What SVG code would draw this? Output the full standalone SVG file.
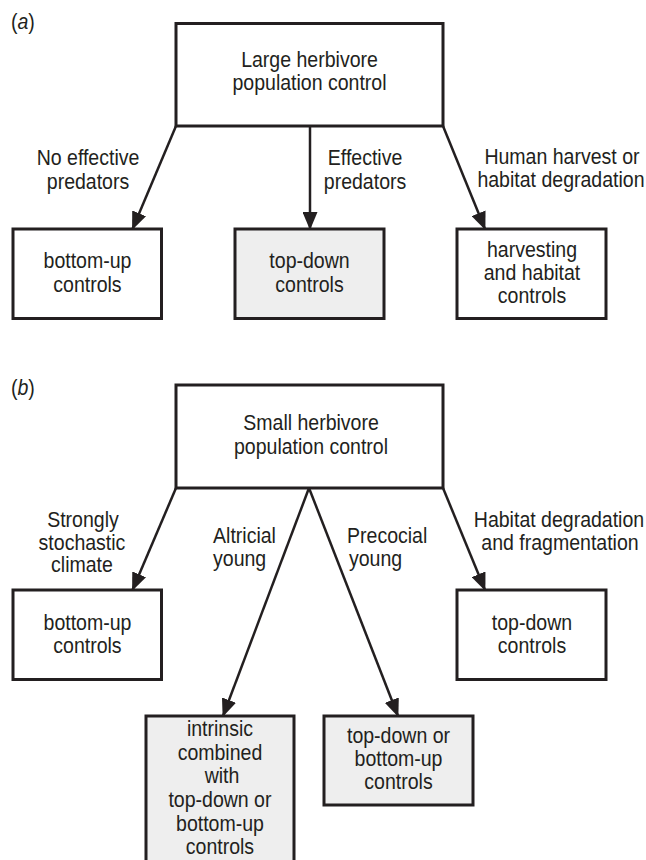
<svg xmlns="http://www.w3.org/2000/svg" width="646" height="860" viewBox="0 0 646 860">
<defs>
<style>
.box{fill:#ffffff;stroke:#231f20;stroke-width:3}
.shade{fill:#eeeeee}
.t{font-family:"Liberation Sans",Arial,sans-serif;font-size:21.7px;fill:#231f20;text-anchor:middle}
.l{text-anchor:start}
.edge{stroke:#231f20;stroke-width:2.5;fill:none;marker-end:url(#ah)}
</style>
<marker id="ah" viewBox="0 0 18 15" markerWidth="18" markerHeight="15" refX="17" refY="7.5" orient="auto" markerUnits="userSpaceOnUse">
<path d="M0,0 L18,7.5 L0,15 Z" fill="#231f20"/>
</marker>
</defs>
<rect width="646" height="860" fill="#ffffff"/>

<g id="connectors">
<line class="edge" x1="176" y1="126" x2="132.5" y2="229"/>
<line class="edge" x1="310" y1="126" x2="310" y2="229"/>
<line class="edge" x1="443" y1="126" x2="485" y2="229"/>
<line class="edge" x1="176" y1="488" x2="132.5" y2="590"/>
<line class="edge" x1="443" y1="488" x2="485" y2="590"/>
<line class="edge" x1="309" y1="488" x2="223" y2="716"/>
<line class="edge" x1="309" y1="488" x2="398" y2="716"/>
</g>

<g id="large-herbivore">
<rect class="box" x="176" y="23.5" width="267" height="102.5"/>
</g>
<g id="a-bottom-up">
<rect class="box" x="13" y="229" width="148.5" height="89.5"/>
</g>
<g id="a-top-down">
<rect class="box shade" x="235" y="229" width="149" height="89.5"/>
</g>
<g id="a-harvesting">
<rect class="box" x="457" y="229" width="149" height="89.5"/>
</g>
<g id="small-herbivore">
<rect class="box" x="176" y="385" width="267" height="103"/>
</g>
<g id="b-bottom-up">
<rect class="box" x="13" y="590" width="148.5" height="89.5"/>
</g>
<g id="b-top-down">
<rect class="box" x="457" y="590" width="149" height="89.5"/>
</g>
<g id="b-intrinsic">
<rect class="box shade" x="146" y="716" width="148" height="160"/>
</g>
<g id="b-topdown-or-bottomup">
<rect class="box shade" x="324" y="716" width="149" height="89"/>
</g>

<g id="texts" transform="scale(0.9,1)">
<text class="t l" x="12.2" y="29">(<tspan font-style="italic">a</tspan>)</text>
<text class="t l" x="12.2" y="395">(<tspan font-style="italic">b</tspan>)</text>

<text class="t" x="97.8" y="165.5">No effective</text>
<text class="t" x="97.8" y="189">predators</text>
<text class="t" x="405.6" y="165.5">Effective</text>
<text class="t" x="405.6" y="189">predators</text>
<text class="t" x="624.4" y="164">Human harvest or</text>
<text class="t" x="623.3" y="187.5">habitat degradation</text>
<text class="t" x="92.2" y="527">Strongly</text>
<text class="t" x="91.1" y="550">stochastic</text>
<text class="t" x="91.1" y="572">climate</text>
<text class="t l" x="236.7" y="543">Altricial</text>
<text class="t l" x="236.7" y="566">young</text>
<text class="t l" x="385.6" y="543">Precocial</text>
<text class="t l" x="387.8" y="566">young</text>
<text class="t" x="621.1" y="527">Habitat degradation</text>
<text class="t" x="622.2" y="550">and fragmentation</text>

<text class="t" x="343.9" y="67.5">Large herbivore</text>
<text class="t" x="343.9" y="90.5">population control</text>
<text class="t" x="97.2" y="268">bottom-up</text>
<text class="t" x="97.2" y="292">controls</text>
<text class="t" x="343.9" y="268">top-down</text>
<text class="t" x="343.9" y="292">controls</text>
<text class="t" x="591.1" y="257">harvesting</text>
<text class="t" x="591.1" y="280">and habitat</text>
<text class="t" x="591.1" y="303">controls</text>

<text class="t" x="345.6" y="430.5">Small herbivore</text>
<text class="t" x="345.6" y="454">population control</text>
<text class="t" x="97.2" y="630">bottom-up</text>
<text class="t" x="97.2" y="653">controls</text>
<text class="t" x="591.1" y="630">top-down</text>
<text class="t" x="591.1" y="653">controls</text>
<text class="t" x="244.4" y="736.5">intrinsic</text>
<text class="t" x="244.4" y="760.5">combined</text>
<text class="t" x="246.7" y="783.5">with</text>
<text class="t" x="244.4" y="807.5">top-down or</text>
<text class="t" x="244.4" y="831">bottom-up</text>
<text class="t" x="244.4" y="854">controls</text>
<text class="t" x="442.8" y="743">top-down or</text>
<text class="t" x="442.8" y="766.5">bottom-up</text>
<text class="t" x="442.8" y="789.5">controls</text>
</g>
</svg>
